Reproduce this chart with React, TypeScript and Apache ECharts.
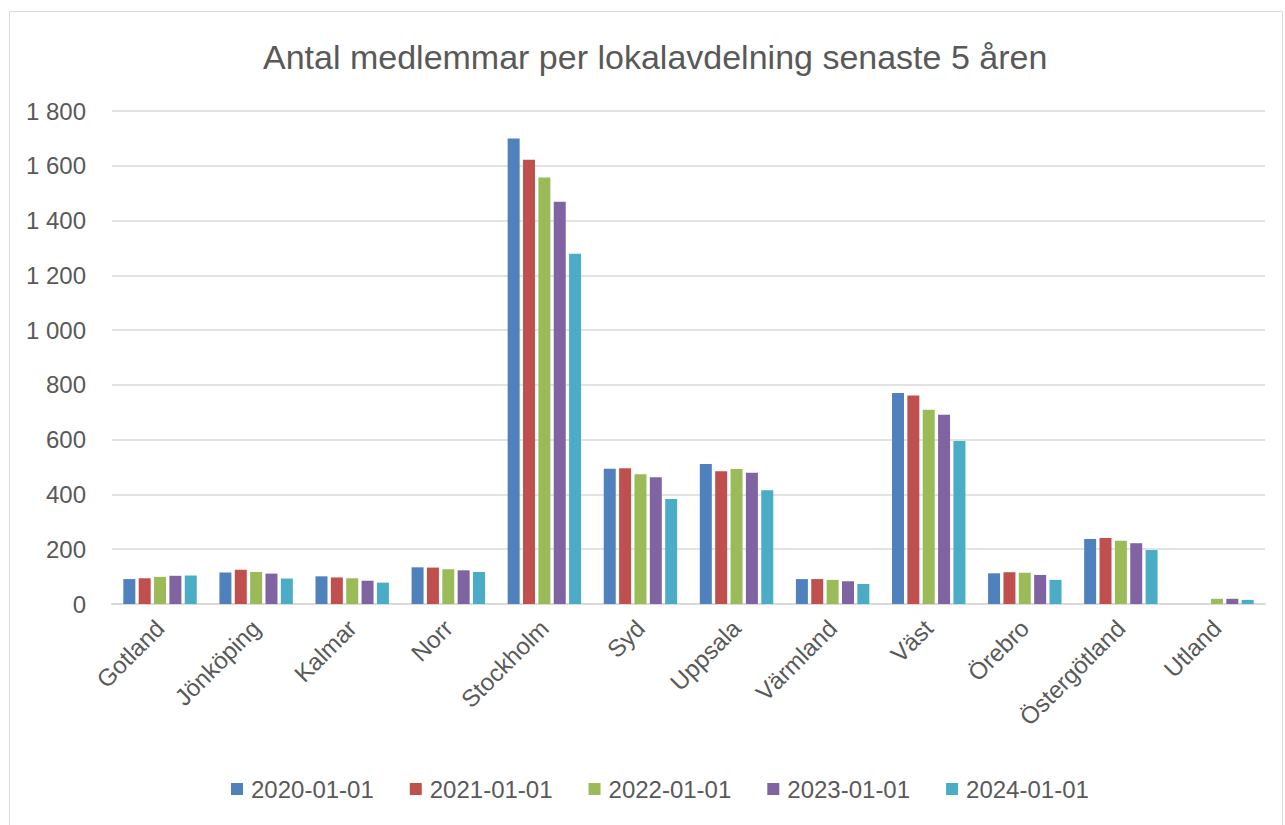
import React, { useEffect, useRef } from "react";
import * as echarts from "echarts";

const categories = ["Gotland", "Jönköping", "Kalmar", "Norr", "Stockholm", "Syd", "Uppsala", "Värmland", "Väst", "Örebro", "Östergötland", "Utland"];
const seriesNames = ["2020-01-01", "2021-01-01", "2022-01-01", "2023-01-01", "2024-01-01"];
const colors = ["#4f81bd", "#c0504d", "#9bbb59", "#8064a2", "#4bacc6"];
const v2020 = [91, 115, 101, 134, 1700, 494, 511, 91, 770, 112, 237, 0];
const v2021 = [94, 125, 97, 133, 1622, 496, 485, 91, 761, 116, 241, 0];
const v2022 = [99, 117, 94, 127, 1557, 474, 493, 88, 709, 114, 231, 19];
const v2023 = [103, 111, 85, 123, 1469, 463, 479, 83, 691, 106, 222, 19];
const v2024 = [104, 93, 78, 117, 1279, 383, 415, 73, 595, 88, 197, 15];
const allValues = [v2020, v2021, v2022, v2023, v2024];
const yMax = 1800;
const yInterval = 200;

const FONT = '"Liberation Sans", Arial, sans-serif';
const TXT = "#595959";

export default function App() {
  const ref = useRef<HTMLDivElement>(null);
  useEffect(() => {
    if (!ref.current) return;
    const chart = echarts.init(ref.current, undefined, { renderer: "svg" });
    chart.setOption({
      animation: false,
      textStyle: { fontFamily: FONT },
      title: {
        text: "Antal medlemmar per lokalavdelning senaste 5 åren",
        left: 258,
        top: 35,
        textStyle: { fontFamily: FONT, fontSize: 34, fontWeight: "normal", color: TXT },
      },
      graphic: [
        {
          type: "rect",
          shape: { x: 9.5, y: 11.5, width: 1273, height: 830 },
          style: { fill: "none", stroke: "#d9d9d9", lineWidth: 1 },
          silent: true,
        },
      ],
      legend: {
        bottom: 19,
        left: 226,
        itemWidth: 12,
        itemHeight: 12,
        itemGap: 36,
        icon: "rect",
        textStyle: { fontFamily: FONT, fontSize: 24, color: TXT, padding: [0, 0, 0, 3] },
        data: seriesNames,
      },
      grid: { left: 112, right: 20, top: 111, bottom: 221 },
      xAxis: {
        type: "category",
        data: categories,
        axisLine: { lineStyle: { color: "#d9d9d9", width: 2 } },
        axisTick: { show: false },
        axisLabel: {
          rotate: 45,
          margin: 20,
          fontFamily: FONT,
          fontSize: 24,
          color: TXT,
          interval: 0,
        },
      },
      yAxis: {
        type: "value",
        min: 0,
        max: yMax,
        interval: yInterval,
        axisLine: { show: false },
        axisTick: { show: false },
        splitLine: { lineStyle: { color: "#d9d9d9", width: 1.5 } },
        axisLabel: {
          margin: 26,
          fontFamily: FONT,
          fontSize: 24,
          color: TXT,
          formatter: (v: number) => String(v).replace(/\B(?=(\d{3})+(?!\d))/g, " "),
        },
      },
      series: seriesNames.map((name, i) => ({
        name,
        type: "bar",
        data: allValues[i],
        barWidth: 12,
        barGap: "28%",
        itemStyle: { color: colors[i] },
      })),
    });
    return () => chart.dispose();
  }, []);
  return (
    <div
      ref={ref}
      style={{ position: "fixed", left: 0, top: 0, width: 1285, height: 825, background: "#fff" }}
    />
  );
}
